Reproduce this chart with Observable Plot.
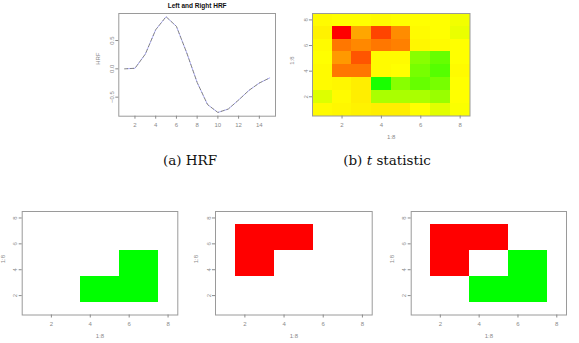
<!DOCTYPE html>
<html><head><meta charset="utf-8">
<script src="https://cdn.jsdelivr.net/npm/d3@7"></script>
<script src="https://cdn.jsdelivr.net/npm/@observablehq/plot@0.6"></script>
<style>
html,body{margin:0;padding:0;background:#fff;}
#fig{position:relative;width:579px;height:343px;overflow:hidden;background:#fff;}
#fig > svg{position:absolute;margin:0;overflow:visible;}
.cap{position:absolute;font-family:"DejaVu Serif","Liberation Serif",serif;font-size:13.5px;color:#111;transform:translate(-50%,-50%);white-space:nowrap;}
</style></head><body><div id="fig"></div>
<script>
// ---------- data ----------
const hrfTime  = [1, 2, 3, 4, 5, 6, 7, 8, 9, 10, 11, 12, 13, 14, 15];
const hrfLeft  = [0.00, 0.01, 0.26, 0.69, 0.92, 0.75, 0.28, -0.24, -0.63, -0.77, -0.71, -0.55, -0.38, -0.25, -0.16];
const hrfRight = [0.00, 0.01, 0.26, 0.69, 0.92, 0.75, 0.28, -0.24, -0.63, -0.77, -0.71, -0.55, -0.38, -0.25, -0.16];

const gridCols = [1, 2, 3, 4, 5, 6, 7, 8];
const gridRows = [1, 2, 3, 4, 5, 6, 7, 8];
// t statistic, one array per row (row 1 = bottom), one value per column
const tStat = [
  [ 0.1,  0.2,  0.3,  0.4,  0.4,  0.0, -0.7, -0.1],
  [-0.8,  0.1,  0.4, -2.0, -2.0, -2.0, -2.4,  0.0],
  [ 0.1,  0.2,  0.4, -5.4, -2.8, -3.6, -3.2,  0.0],
  [ 0.1,  3.2,  3.2,  0.1,  0.0, -3.2, -4.0,  0.1],
  [ 0.0,  2.4,  4.0,  0.1,  0.1, -2.8, -3.6,  0.0],
  [ 0.1,  3.2,  2.8,  3.2,  3.0,  0.2,  0.1,  0.0],
  [ 0.3,  6.0,  2.1,  4.4,  2.7,  0.1,  0.0, -0.5],
  [ 0.1,  0.0,  0.0,  0.1,  0.0,  0.0,  0.0, -0.3]
];
// true activation masks: [column, row]
const greenCells = [[4,2],[5,2],[6,2],[7,2],[4,3],[5,3],[6,3],[7,3],[6,4],[7,4],[6,5],[7,5]];
const redCells   = [[2,4],[3,4],[2,5],[3,5],[2,6],[3,6],[4,6],[5,6],[2,7],[3,7],[4,7],[5,7]];

const hrfTicksX = [2, 4, 6, 8, 10, 12, 14];
const hrfTicksY = [-0.5, 0, 0.5];
const gridTicks = [2, 4, 6, 8];
const axisLabel = "1:8";

// ---------- helpers ----------
const hrfData = hrfTime.map((t, i) => ({time: t, left: hrfLeft[i], right: hrfRight[i]}));
const tTable = gridRows.flatMap((r, i) => gridCols.map((c, j) => ({col: c, row: r, t: tStat[i][j]})));
const cellRect = (data, fill) => Plot.rect(data, {
  x1: d => d[0] - 0.5, x2: d => d[0] + 0.5, y1: d => d[1] - 0.5, y2: d => d[1] + 0.5,
  fill, shapeRendering: "crispEdges"
});

const fig = document.getElementById("fig");
const AX = "#8a8a8a";

function panel(o) {
  const marks = [
    ...o.marks,
    Plot.frame({stroke: "#9a9a9a", strokeWidth: 1}),
    Plot.axisX({ticks: o.xTicks, tickSize: 3, tickPadding: 4, fontSize: 6, color: AX, label: null}),
    Plot.axisY({ticks: o.yTicks, tickSize: 3, tickPadding: 2, fontSize: 6, color: AX, label: null,
                tickRotate: -90, tickFormat: o.yFormat}),
    Plot.text([o.yLabel], {frameAnchor: "left", dx: -o.yLabelOff, rotate: -90, fontSize: 6, fill: AX})
  ];
  if (o.xLabel) marks.push(Plot.text([o.xLabel], {frameAnchor: "bottom", dy: 23, fontSize: 6, fill: AX}));
  if (o.title) marks.push(Plot.text([o.title], {frameAnchor: "top", dy: -10.5, fontSize: 6.5, fontWeight: "bold", fill: "#111"}));
  const svg = Plot.plot({
    width: o.width, height: o.height,
    marginTop: o.mt, marginRight: o.mr, marginBottom: o.mb, marginLeft: o.ml,
    x: {domain: o.xDomain, label: null},
    y: {domain: o.yDomain, label: null},
    color: o.color,
    style: {background: "transparent", fontFamily: "'Liberation Sans', Arial, sans-serif", overflow: "visible"},
    marks
  });
  svg.style.left = o.left + "px";
  svg.style.top = o.top + "px";
  fig.appendChild(svg);
}

// (a) HRF
panel({
  left: 60, top: 0, width: 230, height: 140, mt: 13, mr: 15, mb: 24.3, ml: 58.3,
  xDomain: [0.44, 15.56], yDomain: [-0.836, 0.977],
  xTicks: hrfTicksX, yTicks: hrfTicksY, yFormat: d3.format(".1f"),
  yLabel: "HRF", yLabelOff: 21, title: "Left and Right HRF",
  marks: [
    Plot.line(hrfData, {x: "time", y: "right", stroke: "#6a6ae8", strokeWidth: 0.7, strokeOpacity: 0.8,
                        strokeDasharray: "3,3", strokeDashoffset: 3}),
    Plot.line(hrfData, {x: "time", y: "left", stroke: "#666", strokeWidth: 0.8, strokeDasharray: "3,3"})
  ]
});

// (b) t statistic
panel({
  left: 280, top: 0, width: 200, height: 145, mt: 13, mr: 10.5, mb: 29.5, ml: 32,
  xDomain: [0.5, 8.5], yDomain: [0.5, 8.5],
  xTicks: gridTicks, yTicks: gridTicks, yFormat: d3.format("d"),
  yLabel: axisLabel, yLabelOff: 20, xLabel: axisLabel,
  color: {type: "linear", domain: [-6, 0, 6], range: ["#00ff00", "#ffff00", "#ff0000"]},
  marks: [
    Plot.rect(tTable, {x1: d => d.col - 0.5, x2: d => d.col + 0.5, y1: d => d.row - 0.5, y2: d => d.row + 0.5,
                       fill: "t", shapeRendering: "crispEdges"})
  ]
});

// bottom three mask panels
const bottom = [
  {left: 0,   width: 195, ml: 21.7, mr: 17.7, cells: [[greenCells, "#00ff00"]]},
  {left: 195, width: 190, ml: 20,   mr: 13.3, cells: [[redCells, "#ff0000"]]},
  {left: 385, width: 194, ml: 25.7, mr: 13,   cells: [[redCells, "#ff0000"], [greenCells, "#00ff00"]]}
];
for (const b of bottom) {
  panel({
    left: b.left, top: 195, width: b.width, height: 148, mt: 16, mr: b.mr, mb: 28.5, ml: b.ml,
    xDomain: [0.5, 8.5], yDomain: [0.5, 8.5],
    xTicks: gridTicks, yTicks: gridTicks, yFormat: d3.format("d"),
    yLabel: axisLabel, yLabelOff: 19, xLabel: axisLabel,
    marks: b.cells.map(([cells, col]) => cellRect(cells, col))
  });
}

// captions
const caps = [
  {x: 190, y: 160, html: "(a) HRF"},
  {x: 387, y: 160, html: "(b) <i>t</i> statistic"}
];
for (const c of caps) {
  const d = document.createElement("div");
  d.className = "cap";
  d.style.left = c.x + "px";
  d.style.top = c.y + "px";
  d.innerHTML = c.html;
  fig.appendChild(d);
}
</script></body></html>
